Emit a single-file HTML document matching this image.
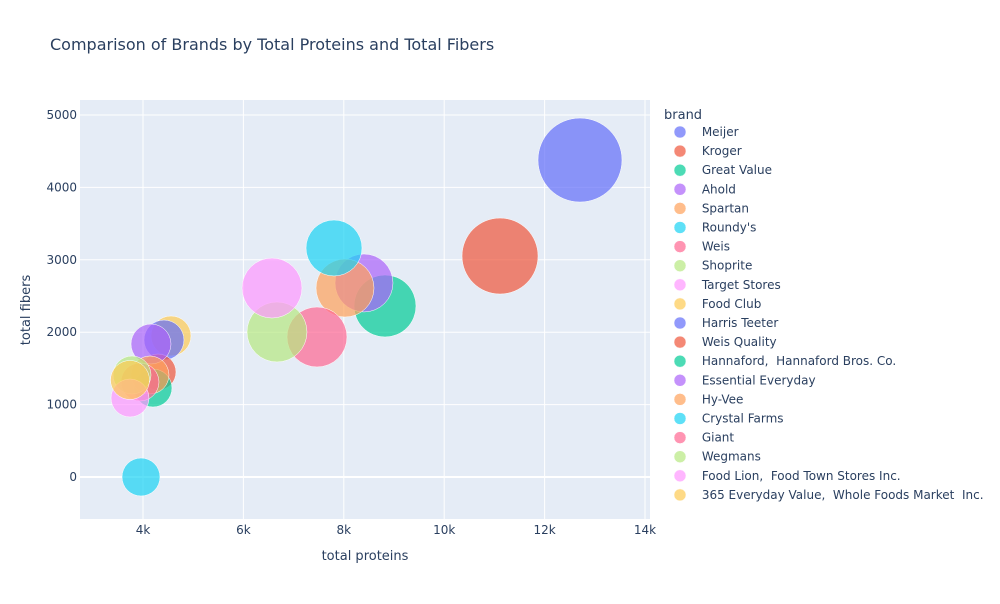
<!DOCTYPE html>
<html><head><meta charset="utf-8"><style>
body{margin:0;background:#fff;font-family:"DejaVu Sans","Liberation Sans",sans-serif}
svg text{font-family:"DejaVu Sans","Liberation Sans",sans-serif;fill:#2a3f5f;white-space:pre}
</style></head><body>
<svg id="chart" width="1000" height="600" xmlns="http://www.w3.org/2000/svg">
<rect width="1000" height="600" fill="#fff"/>
<text x="50" y="50" font-size="16">Comparison of Brands by Total Proteins and Total Fibers</text>
<rect x="80" y="100" width="570" height="419" fill="#e5ecf6"/>
<g id="grid"></g><g id="marks"></g><g id="axes"></g><g id="legend"></g>
<text x="365" y="560" font-size="13" text-anchor="middle">total proteins</text>
<text x="30" y="310" font-size="13" text-anchor="middle" transform="rotate(-90 30 310)">total fibers</text>
</svg>
<script>
const brands=["Meijer","Kroger","Great Value","Ahold","Spartan","Roundy's","Weis","Shoprite","Target Stores","Food Club","Harris Teeter","Weis Quality","Hannaford,  Hannaford Bros. Co.","Essential Everyday","Hy-Vee","Crystal Farms","Giant","Wegmans","Food Lion,  Food Town Stores Inc.","365 Everyday Value,  Whole Foods Market  Inc."];
const proteins=[12705,11112,8821,8402,8024,7805,7466,6669,6570,4558,4418,4299,4199,4159,4139,3960,3940,3781,3741,3741];
const fibers=[4378,3052,2362,2680,2610,3163,1934,2003,2610,1948,1892,1450,1229,1837,1409,0,1312,1409,1091,1340];
const sizes=[1764,1444,961,841,841,784,900,900,900,400,400,324,361,400,361,361,361,361,361,380];
const xTicks=[4000,6000,8000,10000,12000,14000];
const xTickLabels=["4k","6k","8k","10k","12k","14k"];
const yTicks=[0,1000,2000,3000,4000,5000];
const yTickLabels=["0","1000","2000","3000","4000","5000"];
const colors=["#636efa","#EF553B","#00cc96","#ab63fa","#FFA15A","#19d3f3","#FF6692","#B6E880","#FF97FF","#FECB52"];
const NS="http://www.w3.org/2000/svg";
const xs=v=>143+(v-4000)*0.0502;
const ys=v=>477-v*0.0724;
const maxS=Math.max(...sizes);
const rs=s=>Math.sqrt(s/maxS)*42;
function mk(tag,attrs,parent,txt){const e=document.createElementNS(NS,tag);for(const k in attrs)e.setAttribute(k,attrs[k]);if(txt!==undefined)e.textContent=txt;parent.appendChild(e);return e;}
const grid=document.getElementById('grid'),axes=document.getElementById('axes'),marks=document.getElementById('marks'),leg=document.getElementById('legend');
xTicks.forEach((t,i)=>{const x=xs(t);
 const l=mk('line',{x1:x,x2:x,y1:100,y2:519,stroke:'#fff','stroke-width':1},grid);
 
 
 const tx=mk('text',{x:x,y:534,'font-size':12,'text-anchor':'middle'},axes,xTickLabels[i]);
 
 
});
yTicks.forEach((t,i)=>{const y=ys(t);
 const l=mk('line',{x1:80,x2:650,y1:y,y2:y,stroke:'#fff','stroke-width':t===0?2:1},grid);
 
 
 const tx=mk('text',{x:77,y:y+4,'font-size':12,'text-anchor':'end'},axes,yTickLabels[i]);
 
 
});
brands.forEach((b,i)=>{
 const c=mk('circle',{cx:xs(proteins[i]),cy:ys(fibers[i]),r:rs(sizes[i]),fill:colors[i%10],'fill-opacity':0.7,stroke:'#fff','stroke-width':0.5},marks);
 
 
});
const lt=mk('text',{x:664,y:119,'font-size':13},leg,'brand');


brands.forEach((b,i)=>{const y=132+i*19.1;
 const g=mk('g',{},leg);
 
 
 mk('circle',{cx:680,cy:y,r:6,fill:colors[i%10],'fill-opacity':0.7,stroke:'#fff','stroke-width':0.5},g);
 mk('text',{x:698,y:y+4,'font-size':12},g,' '+b);
});
</script>
</body></html>
